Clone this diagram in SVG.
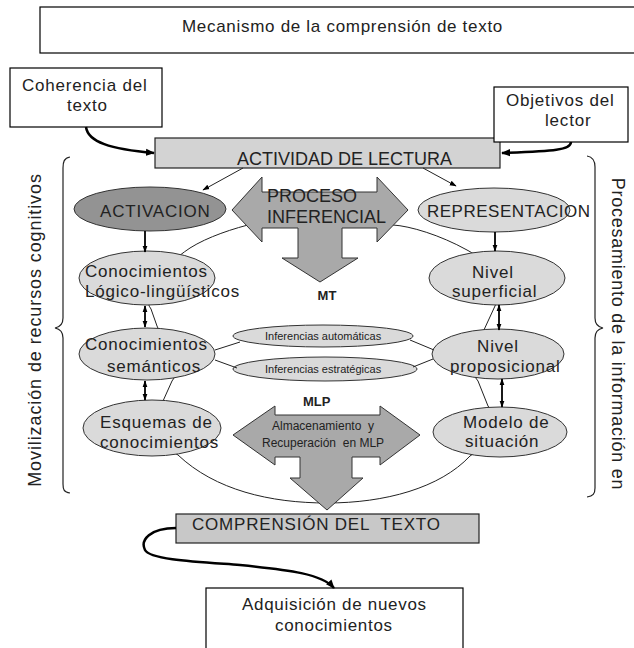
<svg xmlns="http://www.w3.org/2000/svg" width="634" height="648" viewBox="0 0 634 648">
<defs>
<marker id="ah" viewBox="0 0 10 10" refX="9" refY="5" markerWidth="9" markerHeight="9" orient="auto-start-reverse" markerUnits="userSpaceOnUse"><path d="M0,1 L10,5 L0,9 Z" fill="#000"/></marker>
<marker id="ahs" viewBox="0 0 10 10" refX="9" refY="5" markerWidth="7" markerHeight="7" orient="auto-start-reverse" markerUnits="userSpaceOnUse"><path d="M0,1.5 L10,5 L0,8.5 Z" fill="#000"/></marker>
</defs>
<style>
text{font-family:"Liberation Sans",Arial,sans-serif;fill:#222;}
.t17{font-size:17px;letter-spacing:0.8px}
.box{fill:#fff;stroke:#000;stroke-width:1.2}
.gbox{fill:#d3d3d3;stroke:#222;stroke-width:1.2}
.ell{fill:#dadada;stroke:#333;stroke-width:1}
.dark{fill:#939393}
.big{fill:#a9a9a9;stroke:#333;stroke-width:1}
.thin{fill:none;stroke:#222;stroke-width:1}
.thick{fill:none;stroke:#000;stroke-width:2.5}
.med{fill:none;stroke:#000;stroke-width:1.8}
.brace{fill:none;stroke:#222;stroke-width:1.2}
</style>
<rect x="0" y="0" width="634" height="648" fill="#fff"/>

<g id="outline">
<path class="thin" d="M 320 214 C 290 214, 225 226, 190 248 C 160 268, 140 295, 151 309 L 157 326 C 165 345, 185 365, 172 381 L 163 401 C 150 420, 160 445, 178 455 C 215 490, 270 503, 327 503 C 385 503, 440 488, 470 456 C 495 440, 500 420, 488 406 L 478 381 C 465 365, 470 345, 483 332 L 495 306 C 505 285, 490 262, 467 250 C 440 235, 410 226, 393 225 C 375 218, 350 214, 320 214 Z"/>
</g>

<g id="title">
<rect class="box" x="40" y="7" width="620" height="46"/>
<text class="t17" x="182" y="32" style="letter-spacing:0.7px">Mecanismo de la comprensión de texto</text>
</g>

<g id="coherencia">
<rect class="box" x="10" y="68" width="152" height="59"/>
<text class="t17" x="22" y="91">Coherencia del</text>
<text class="t17" x="67" y="111">texto</text>
</g>

<g id="actividad">
<rect class="gbox" x="155" y="138" width="345" height="30"/>
<text x="237" y="165" style="font-size:18px">ACTIVIDAD DE LECTURA</text>
</g>

<g id="objetivos">
<rect class="box" x="494" y="87" width="134" height="55"/>
<text class="t17" x="506" y="106">Objetivos del</text>
<text class="t17" x="545" y="126">lector</text>
</g>

<g id="brace-left">
<path class="brace" d="M 70 157 C 64 158, 63 162, 63 168 L 63 318 C 63 324, 60 327, 55 328 C 60 329, 63 332, 63 338 L 63 484 C 63 490, 64 492, 70 493"/>
<text transform="translate(41,330) rotate(-90)" text-anchor="middle" style="font-size:18px;letter-spacing:0.9px">Movilización de recursos cognitivos</text>
</g>

<g id="brace-right">
<path class="brace" d="M 587 156 C 593 157, 595 161, 595 167 L 595 318 C 595 324, 598 327, 603 328 C 598 329, 595 332, 595 338 L 595 488 C 595 494, 593 496, 587 497"/>
<text transform="translate(612,334) rotate(90)" text-anchor="middle" style="font-size:18px;letter-spacing:0.75px">Procesamiento de la información en</text>
</g>

<g id="proceso">
<polygon class="big" points="232,210 262,177 262,192 377,192 377,177 408,210 377,242 377,228 342,228 342,258 358,258 320,282 282,258 298,258 298,228 262,228 262,242"/>
<text x="267" y="202" style="font-size:18px">PROCESO</text>
<text x="267" y="223" style="font-size:18px">INFERENCIAL</text>
</g>

<g id="activacion">
<ellipse class="ell dark" cx="150" cy="209" rx="76" ry="22"/>
<text class="t17" x="100" y="217">ACTIVACION</text>
</g>

<g id="representacion">
<ellipse class="ell" cx="494" cy="210" rx="76" ry="22"/>
<text x="427" y="217" style="font-size:17px;letter-spacing:0.5px">REPRESENTACION</text>
</g>

<g id="logico">
<ellipse class="ell" cx="147" cy="278" rx="68" ry="27"/>
<text class="t17" x="85" y="277">Conocimientos</text>
<text class="t17" x="85" y="297">Lógico-lingüísticos</text>
</g>

<g id="superficial">
<ellipse class="ell" cx="497" cy="278" rx="68" ry="27"/>
<text class="t17" x="472" y="278">Nivel</text>
<text class="t17" x="452" y="297">superficial</text>
</g>

<g id="mt">
<text x="327" y="300" text-anchor="middle" style="font-size:13px;font-weight:bold">MT</text>
</g>

<g id="semanticos">
<ellipse class="ell" cx="147" cy="354" rx="68" ry="26"/>
<text class="t17" x="85" y="350">Conocimientos</text>
<text class="t17" x="107" y="372">semánticos</text>
</g>

<g id="inf-auto">
<ellipse class="ell" cx="323" cy="336" rx="90" ry="11"/>
<text x="265" y="340" style="font-size:11px">Inferencias automáticas</text>
</g>

<g id="inf-estr">
<ellipse class="ell" cx="325" cy="369" rx="92" ry="12"/>
<text x="265" y="373" style="font-size:11px">Inferencias estratégicas</text>
</g>

<g id="proposicional">
<ellipse class="ell" cx="498" cy="354" rx="66" ry="25"/>
<text class="t17" x="498" y="352" text-anchor="middle">Nivel</text>
<text class="t17" x="450" y="372">proposicional</text>
</g>

<g id="mlp">
<text x="303" y="406" style="font-size:13px;font-weight:bold">MLP</text>
</g>

<g id="almacenamiento">
<polygon class="big" points="233,435 275,406 275,415 380,415 380,406 420,435 380,465 380,457 352,457 352,478 363,478 327,510 290,478 300,478 300,457 275,457 275,465"/>
<text x="272" y="430" style="font-size:12px;white-space:pre">Almacenamiento  y</text>
<text x="262" y="447" style="font-size:12px;white-space:pre">Recuperación  en MLP</text>
</g>

<g id="esquemas">
<ellipse class="ell" cx="152" cy="428" rx="69" ry="28"/>
<text class="t17" x="100" y="428">Esquemas de</text>
<text class="t17" x="100" y="448">conocimientos</text>
</g>

<g id="modelo">
<ellipse class="ell" cx="500" cy="432" rx="67" ry="25"/>
<text class="t17" x="463" y="428">Modelo de</text>
<text class="t17" x="465" y="447">situación</text>
</g>

<g id="comprension">
<rect class="gbox" x="176" y="514" width="303" height="29" style="fill:#c8c8c8"/>
<text class="t17" x="192" y="530" style="white-space:pre">COMPRENSIÓN DEL  TEXTO</text>
</g>

<g id="adquisicion">
<rect class="box" x="206" y="588" width="257" height="80"/>
<text x="242" y="610" style="font-size:17px;letter-spacing:0.7px">Adquisición de nuevos</text>
<text x="275" y="631" style="font-size:17px;letter-spacing:0.7px">conocimientos</text>
</g>

<g id="connectors">
<path class="thick" d="M 86 127 C 88 142, 110 149, 154 153" marker-end="url(#ah)"/>
<path class="thick" d="M 571 142 C 571 150, 555 151, 502 153" marker-end="url(#ah)"/>
<path class="thin" d="M 243 168 L 203 190" marker-end="url(#ahs)"/>
<path class="thin" d="M 423 168 L 456 186" marker-end="url(#ahs)"/>
<path class="med" d="M 145 231 L 145 252" marker-end="url(#ahs)"/>
<path class="med" d="M 495 232 L 495 251" marker-end="url(#ahs)"/>
<path class="med" d="M 145 306 L 145 327" marker-start="url(#ahs)" marker-end="url(#ahs)"/>
<path class="med" d="M 145 381 L 145 400" marker-start="url(#ahs)" marker-end="url(#ahs)"/>
<path class="med" d="M 499 305 L 499 330" marker-start="url(#ahs)" marker-end="url(#ahs)"/>
<path class="med" d="M 502 379 L 502 407" marker-start="url(#ahs)" marker-end="url(#ahs)"/>
<path class="thin" d="M 215 350 L 240 342"/>
<path class="thin" d="M 215 360 L 237 368"/>
<path class="thin" d="M 410 340 L 434 350"/>
<path class="thin" d="M 413 367 L 433 359"/>
<path class="thick" d="M 176 528 C 150 528, 140 540, 145 550 C 150 560, 200 562, 240 565 C 290 570, 322 574, 334 588" marker-end="url(#ah)"/>
</g>
</svg>
